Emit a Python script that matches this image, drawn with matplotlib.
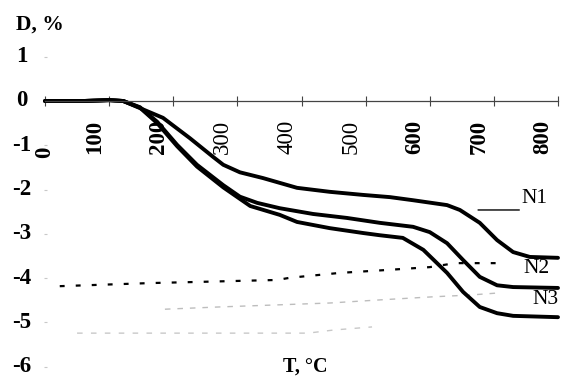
import matplotlib
matplotlib.use("Agg")
import matplotlib.pyplot as plt
from matplotlib.transforms import blended_transform_factory

plt.rcParams['font.family'] = ['Liberation Serif', 'DejaVu Serif']

# ---- data ----
T_n1 = [0, 60, 100, 122, 148, 184, 226, 262, 278, 304, 340, 393, 444, 496, 538, 574, 627, 647, 678, 705, 730, 756, 800]
D_n1 = [0, 0, 0.02, 0.0, -0.16, -0.38, -0.84, -1.26, -1.44, -1.61, -1.74, -1.96, -2.05, -2.12, -2.17, -2.24, -2.35, -2.46, -2.75, -3.14, -3.41, -3.52, -3.54]

T_n2 = [0, 60, 100, 122, 148, 175, 206, 237, 278, 304, 331, 366, 418, 471, 522, 574, 600, 627, 652, 678, 705, 730, 800]
D_n2 = [0, 0, 0.02, 0.0, -0.14, -0.47, -0.99, -1.44, -1.90, -2.16, -2.30, -2.42, -2.55, -2.64, -2.75, -2.84, -2.96, -3.21, -3.59, -3.97, -4.16, -4.20, -4.22]

T_n3 = [0, 60, 100, 122, 148, 175, 206, 237, 278, 320, 366, 393, 444, 496, 522, 558, 590, 627, 652, 678, 705, 730, 800]
D_n3 = [0, 0, 0.02, 0.0, -0.15, -0.50, -1.02, -1.48, -1.95, -2.37, -2.57, -2.73, -2.87, -2.98, -3.03, -3.09, -3.36, -3.88, -4.31, -4.65, -4.79, -4.85, -4.88]

# faint background traces visible in the scan
T_dot = [23, 164, 222, 304, 362, 382, 460, 538, 600, 640, 720]
D_dot = [-4.18, -4.11, -4.09, -4.06, -4.04, -3.99, -3.88, -3.81, -3.75, -3.66, -3.66]
T_faint1 = [187, 270, 367, 444, 522, 605, 663, 710]
D_faint1 = [-4.70, -4.65, -4.60, -4.56, -4.49, -4.42, -4.38, -4.33]
T_faint2 = [50, 410, 450, 510]
D_faint2 = [-5.24, -5.24, -5.17, -5.10]

x_ticks = [0, 100, 200, 300, 400, 500, 600, 700, 800]
x_tick_bold = [True, True, True, False, False, False, True, True, True]
y_ticks = [1, 0, -1, -2, -3, -4, -5, -6]
series_names = ['N1', 'N2', 'N3']
name_pos = [(763, -2.21), (767, -3.79), (780, -4.49)]

W, H = 562, 378
fig = plt.figure(figsize=(W / 100, H / 100), dpi=100)
# axes placement in pixels
xl, xr = -10, 820
yb, yt = -6.2, 1.3
px_per_T = 0.64125
px_per_D = 44.3
left_px = 45 + xl * px_per_T
right_px = 45 + xr * px_per_T
top_px = 101 - yt * px_per_D
bot_px = 101 - yb * px_per_D
ax = fig.add_axes([left_px / W, (H - bot_px) / H, (right_px - left_px) / W, (bot_px - top_px) / H])
ax.set_xlim(xl, xr)
ax.set_ylim(yb, yt)
ax.patch.set_alpha(0)

for s in ['top', 'right']:
    ax.spines[s].set_visible(False)
ax.spines['left'].set_position(('data', 3))
ax.spines['left'].set_linewidth(0)
ax.spines['bottom'].set_position(('data', 0))
ax.spines['bottom'].set_bounds(0, 800)
ax.spines['bottom'].set_color('#444444')
ax.spines['bottom'].set_linewidth(0.9)

ax.set_xticks(x_ticks)
ax.tick_params(axis='x', direction='inout', length=7, width=0.8, color='#444444', labelbottom=False)
ax.set_yticks(y_ticks)
ax.tick_params(axis='y', direction='out', length=2, width=0.8, color='#c8c8c8', labelleft=False)

# background traces
ax.plot(T_faint2, D_faint2, color='#c8c8c8', lw=1.0, linestyle=(0, (4, 6)))
ax.plot(T_faint1, D_faint1, color='#bdbdbd', lw=1.0, linestyle=(0, (4, 5)))
ax.plot(T_dot, D_dot, color='black', lw=1.6, linestyle=(0, (2.2, 5)))

# main curves
for T, D in [(T_n1, D_n1), (T_n2, D_n2), (T_n3, D_n3)]:
    ax.plot(T, D, color='black', lw=2.8, solid_capstyle='round', solid_joinstyle='round')

# x tick labels (rotated, sitting under the zero line)
for v, b in zip(x_ticks, x_tick_bold):
    if v == 0:
        off = (0, -46 * 0.72)
    else:
        off = (-15 * 0.72, -19 * 0.72)
    ax.annotate(str(v), xy=(v, 0), xycoords='data', xytext=off, textcoords='offset points',
                rotation=90, ha='center', va='top', fontsize=16.5,
                fontweight='bold' if b else 'normal')

# y tick labels
tr = blended_transform_factory(fig.transFigure, ax.transData)
for v in y_ticks:
    ax.text(22 / W, v, str(v), transform=tr, ha='center', va='center', fontsize=16.5, fontweight='bold')

# series names
for name, (tx, ty) in zip(series_names, name_pos):
    ax.text(tx, ty, name, ha='center', va='center', fontsize=15.5, clip_on=False)
ax.annotate('', xy=(744, -2.46), xytext=(671, -2.46),
            arrowprops=dict(arrowstyle='-', color='black', lw=1.0))

fig.text(40 / W, 1 - 25 / H, 'D, %', ha='center', va='center', fontsize=15.5, fontweight='bold')
fig.text(305 / W, 1 - 367 / H, 'T, \u00b0C', ha='center', va='center', fontsize=14.5, fontweight='bold')

fig.savefig('out.png', dpi=100)
